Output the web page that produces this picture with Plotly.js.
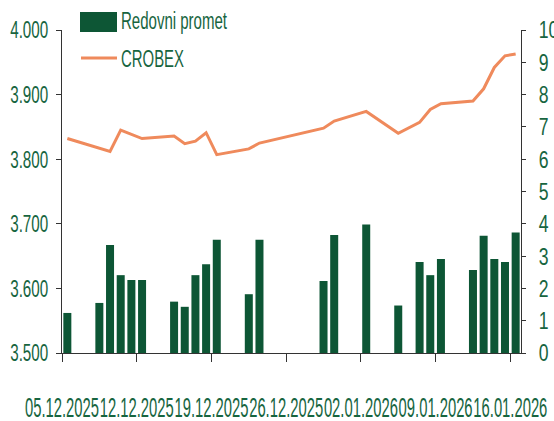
<!DOCTYPE html>
<html>
<head>
<meta charset="utf-8">
<script src="https://cdn.plot.ly/plotly-3.0.1.min.js"></script>
<style>html,body{margin:0;padding:0;background:#fff}#chart{width:554px;height:421px}</style>
</head>
<body>
<div id="chart"></div>
<script>
// Trading days
const dates = ['2025-12-05','2025-12-08','2025-12-09','2025-12-10','2025-12-11','2025-12-12',
  '2025-12-15','2025-12-16','2025-12-17','2025-12-18','2025-12-19','2025-12-22','2025-12-23',
  '2025-12-29','2025-12-30','2026-01-02','2026-01-05','2026-01-07','2026-01-08','2026-01-09',
  '2026-01-12','2026-01-13','2026-01-14','2026-01-15','2026-01-16'];
// Redovni promet (right axis)
const turnover = [1.24,1.55,3.34,2.41,2.26,2.26,1.59,1.43,2.41,2.75,3.51,1.82,3.51,
  2.23,3.65,3.98,1.47,2.82,2.41,2.91,2.57,3.63,2.91,2.82,3.73];
// CROBEX (left axis)
const crobex = [3832,3817,3812,3845,3839,3832,3836,3824,3828,3841,3807,3816,3825,
  3848,3859,3874,3840,3857,3877,3886,3890,3909,3942,3960,3963];
// X tick labels
const tickDates = ['2025-12-05','2025-12-12','2025-12-19','2025-12-26','2026-01-02','2026-01-09','2026-01-16'];
const tickLabels = ['05.12.2025','12.12.2025','19.12.2025','26.12.2025','02.01.2026','09.01.2026','16.01.2026'];
const seriesNames = ['Redovni promet','CROBEX'];

const FONT = '"Liberation Sans", Arial, sans-serif';
const GREEN_TXT = '#17653f';
const BAR = '#0d5635';
const LINE = '#ef8a5c';
const AX = '#333333';

const xs = dates.map(d => d + ' 12:00');

const traces = [
  {type:'bar', name:seriesNames[0], x:xs, y:turnover, yaxis:'y2',
   width: xs.map(()=>0.75*86400000),
   marker:{color:BAR, line:{width:0}}, showlegend:false},
  {type:'scatter', mode:'lines', name:seriesNames[1], x:xs, y:crobex, yaxis:'y',
   line:{color:LINE, width:3}, showlegend:false}
];

const L = 62, R = 33, T = 30, B = 68, W = 554, H = 421;
const pw = W-L-R, ph = H-T-B;
const px = v => (v-L)/pw;
const py = v => (H-B-v)/ph;

const layout = {
  width:W, height:H,
  margin:{l:L, r:R, t:T, b:B, pad:0},
  paper_bgcolor:'#fff', plot_bgcolor:'#fff',
  separators:',.',
  font:{family:FONT, size:18, color:GREEN_TXT},
  showlegend:false,
  xaxis:{type:'date', range:['2025-12-05','2026-01-17'],
    tickmode:'array', tickvals:tickDates, ticktext:tickLabels,
    showline:true, linecolor:AX, linewidth:1, ticks:'outside', ticklen:8, tickcolor:AX,
    showgrid:false, zeroline:false, tickangle:0, ticklabelstandoff:23,
    ticklabeloverflow:'allow',
    tickfont:{family:FONT, size:27, color:GREEN_TXT}},
  yaxis:{range:[3500,4000], dtick:100, tick0:3500, tickformat:',d',
    showline:true, linecolor:AX, linewidth:1, ticks:'outside', ticklen:5, tickcolor:AX,
    showgrid:false, zeroline:false, ticklabelstandoff:3, ticklabeloverflow:'allow',
    tickfont:{family:FONT, size:24, color:GREEN_TXT}},
  yaxis2:{range:[0,10], dtick:1, tick0:0, overlaying:'y', side:'right',
    showline:true, linecolor:AX, linewidth:1, ticks:'outside', ticklen:4, tickcolor:AX,
    showgrid:false, zeroline:false, ticklabelstandoff:8, ticklabeloverflow:'allow',
    tickfont:{family:FONT, size:24, color:GREEN_TXT}},
  shapes:[
    {type:'rect', xref:'paper', yref:'paper', x0:px(80), x1:px(117), y0:py(32), y1:py(12),
     fillcolor:BAR, line:{width:0}},
    {type:'line', xref:'paper', yref:'paper', x0:px(81), x1:px(117), y0:py(58), y1:py(58),
     line:{color:LINE, width:3}}
  ],
  annotations:[
    {text:seriesNames[0], xref:'paper', yref:'paper', x:px(119), y:py(21), xanchor:'left', yanchor:'middle',
     align:'left', showarrow:false, font:{family:FONT, size:23, color:GREEN_TXT}},
    {text:seriesNames[1], xref:'paper', yref:'paper', x:px(119), y:py(59), xanchor:'left', yanchor:'middle',
     align:'left', showarrow:false, font:{family:FONT, size:23, color:GREEN_TXT}}
  ]
};

Plotly.newPlot('chart', traces, layout, {staticPlot:true, displayModeBar:false}).then(gd => {
  // condense text horizontally (narrow typeface look)
  const fit = (sel, fn) => gd.querySelectorAll(sel).forEach(t => {
    t.setAttribute('textLength', fn(t.textContent));
    t.setAttribute('lengthAdjust', 'spacingAndGlyphs');
  });
  fit('g.xtick text', () => 74);
  fit('g.ytick text', () => 38);
  fit('g.y2tick text', s => 9.8 * s.length);
  fit('text.annotation-text', s => s === seriesNames[0] ? 106 : 63);
});
</script>
</body>
</html>
